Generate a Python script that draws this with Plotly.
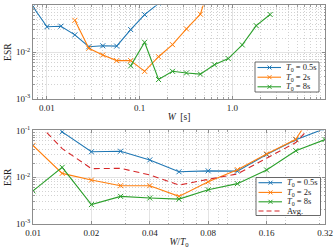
import plotly.graph_objects as go
import math

# ---- data ----
ratio = [0.01, 0.01414, 0.02, 0.02828, 0.04, 0.05657, 0.08, 0.1131, 0.16, 0.2263, 0.32]  # W/T0
T0_values = [0.5, 2, 8]
series_names = ["<i>T</i><sub>0</sub> = 0.5s", "<i>T</i><sub>0</sub> = 2s", "<i>T</i><sub>0</sub> = 8s"]
esr_T05 = [0.5, 0.093, 0.035, 0.036, 0.0235, 0.0131, 0.0137, 0.0135, 0.0305, 0.0635, 0.11]
esr_T2 = [0.048, 0.0121, 0.0087, 0.0066, 0.0066, 0.0039, 0.0080, 0.0145, 0.0315, 0.065, 0.6]
esr_T8 = [0.0051, 0.0163, 0.0026, 0.0039, 0.0036, 0.0034, 0.0054, 0.0073, 0.0143, 0.037, 0.064]
esr_avg = [0.184, 0.041, 0.0153, 0.0155, 0.0112, 0.0068, 0.0090, 0.0118, 0.0256, 0.0552, 0.26]
avg_name = "Avg."

top_xticks = [0.01, 0.1, 1]
top_xticklabels = ["0.01", "0.1", "1.0"]
bot_xticks = [0.01, 0.02, 0.04, 0.08, 0.16, 0.32]
bot_xticklabels = ["0.01", "0.02", "0.04", "0.08", "0.16", "0.32"]
yticks = [0.001, 0.01, 0.1]
yticklabels = ["10<sup>-3</sup>", "10<sup>-2</sup>", "10<sup>-1</sup>"]

colors = ["#1f77b4", "#ff7f0e", "#2ca02c"]
avg_color = "#d62728"
FONT = "Liberation Serif"

W_PX, H_PX = 334, 250
ML, MR, MT, MB = 33, 9, 5, 26
PW, PH = W_PX - ML - MR, H_PX - MT - MB


def px(xp):
    return (xp - ML) / PW


def py(yp):
    return 1 - (yp - MT) / PH


fig = go.Figure()
all_esr = [esr_T05, esr_T2, esr_T8]
for i, (T0, esr) in enumerate(zip(T0_values, all_esr)):
    W = [T0 * r for r in ratio]
    mk = dict(symbol="x-thin", size=5, line=dict(width=1, color=colors[i]), color=colors[i])
    fig.add_trace(go.Scatter(x=W, y=esr, mode="lines+markers", name=series_names[i],
                             line=dict(color=colors[i], width=1.1), marker=mk,
                             xaxis="x", yaxis="y", showlegend=False))
for i, esr in enumerate(all_esr):
    mk = dict(symbol="x-thin", size=5, line=dict(width=1, color=colors[i]), color=colors[i])
    fig.add_trace(go.Scatter(x=ratio, y=esr, mode="lines+markers", name=series_names[i],
                             line=dict(color=colors[i], width=1.1), marker=mk,
                             xaxis="x2", yaxis="y2", showlegend=False))
fig.add_trace(go.Scatter(x=ratio, y=esr_avg, mode="lines", name=avg_name,
                         line=dict(color=avg_color, width=1.1, dash="6px,4px"),
                         xaxis="x2", yaxis="y2", showlegend=False))

minor_y = [k * 10 ** e for e in (-3, -2) for k in range(2, 10)]
minor_top_x = [k * 10 ** e for e in (-3, -2, -1, 0) for k in range(2, 10)]
minor_bot_x = [0.03, 0.05, 0.06, 0.07, 0.09, 0.1, 0.2, 0.3]

axis_common = dict(showline=True, linecolor="#8c8c8c", linewidth=1, mirror="ticks",
                   ticks="inside", ticklen=3, tickcolor="#8c8c8c", automargin=False,
                   showgrid=True, gridcolor="#e3e3e3", gridwidth=1, zeroline=False,
                   tickfont=dict(family=FONT, size=9, color="#222"))
minor_common = dict(ticks="inside", ticklen=1.5, tickcolor="#9a9a9a", showgrid=True,
                    gridcolor="#d2d2d2", griddash="1px,2px", gridwidth=0.6)

# ---- manual compact legends (legend boxes, not data marks) ----
shapes = []
annotations = []


def legend_box(x0, y0, x1, y1, rows):
    shapes.append(dict(type="rect", xref="paper", yref="paper", x0=px(x0), x1=px(x1),
                       y0=py(y1), y1=py(y0), line=dict(color="#444", width=0.8),
                       fillcolor="white", layer="above"))
    for (yc, color, name, dash, marker) in rows:
        shapes.append(dict(type="line", xref="paper", yref="paper", x0=px(x0 + 2.5), x1=px(x0 + 26),
                           y0=py(yc), y1=py(yc), line=dict(color=color, width=1.1, dash=dash),
                           layer="above"))
        if marker:
            xm = x0 + 14.5
            for s in (1, -1):
                shapes.append(dict(type="line", xref="paper", yref="paper",
                                   x0=px(xm - 2), x1=px(xm + 2), y0=py(yc - 2 * s), y1=py(yc + 2 * s),
                                   line=dict(color=color, width=1), layer="above"))
        annotations.append(dict(xref="paper", yref="paper", x=px(x0 + 29), y=py(yc),
                                xanchor="left", yanchor="middle", showarrow=False, text=name,
                                font=dict(family=FONT, size=8.5, color="#222")))


legend_box(255, 62, 319, 92,
           [(67.5, colors[0], series_names[0], "solid", True),
            (77.2, colors[1], series_names[1], "solid", True),
            (86.8, colors[2], series_names[2], "solid", True)])
legend_box(256, 177.5, 320.5, 215.5,
           [(182.7, colors[0], series_names[0], "solid", True),
            (192.4, colors[1], series_names[1], "solid", True),
            (201.8, colors[2], series_names[2], "solid", True),
            (211.0, avg_color, avg_name, "5px,3px", False)])

fig.update_layout(
    width=W_PX, height=H_PX, autosize=False,
    margin=dict(l=ML, r=MR, t=MT, b=MB),
    paper_bgcolor="white", plot_bgcolor="white",
    font=dict(family=FONT, size=9, color="#222"),
    showlegend=False,
    shapes=shapes, annotations=annotations,
    xaxis=dict(type="log", range=[math.log10(0.00707), 1], domain=[0, 1],
               tickvals=top_xticks, ticktext=top_xticklabels, anchor="y",
               minor=dict(tickmode="array", tickvals=minor_top_x, **minor_common),
               title=dict(text="<i>W</i>  [s]", font=dict(family=FONT, size=9.5), standoff=1),
               **axis_common),
    yaxis=dict(type="log", range=[-3, -1], domain=[0.571, 0.998], anchor="x",
               tickvals=yticks, ticktext=yticklabels,
               minor=dict(tickmode="array", tickvals=minor_y, **minor_common),
               title=dict(text="ESR", font=dict(family=FONT, size=9.5), standoff=2),
               **axis_common),
    xaxis2=dict(type="log", range=[math.log10(0.01), math.log10(0.32)], domain=[0, 1],
                tickvals=bot_xticks, ticktext=bot_xticklabels, anchor="y2",
                minor=dict(tickmode="array", tickvals=minor_bot_x, **minor_common),
                title=dict(text="<i>W</i>/<i>T</i><sub>0</sub>", font=dict(family=FONT, size=9.5), standoff=1),
                **axis_common),
    yaxis2=dict(type="log", range=[-3, -1], domain=[0, 0.427], anchor="x2",
                tickvals=yticks, ticktext=yticklabels,
                minor=dict(tickmode="array", tickvals=minor_y, **minor_common),
                title=dict(text="ESR", font=dict(family=FONT, size=9.5), standoff=2),
                **axis_common),
)

fig.write_html("out.html", config={"displayModeBar": False},
               post_script="document.body.style.margin='0';document.body.style.padding='0';")
